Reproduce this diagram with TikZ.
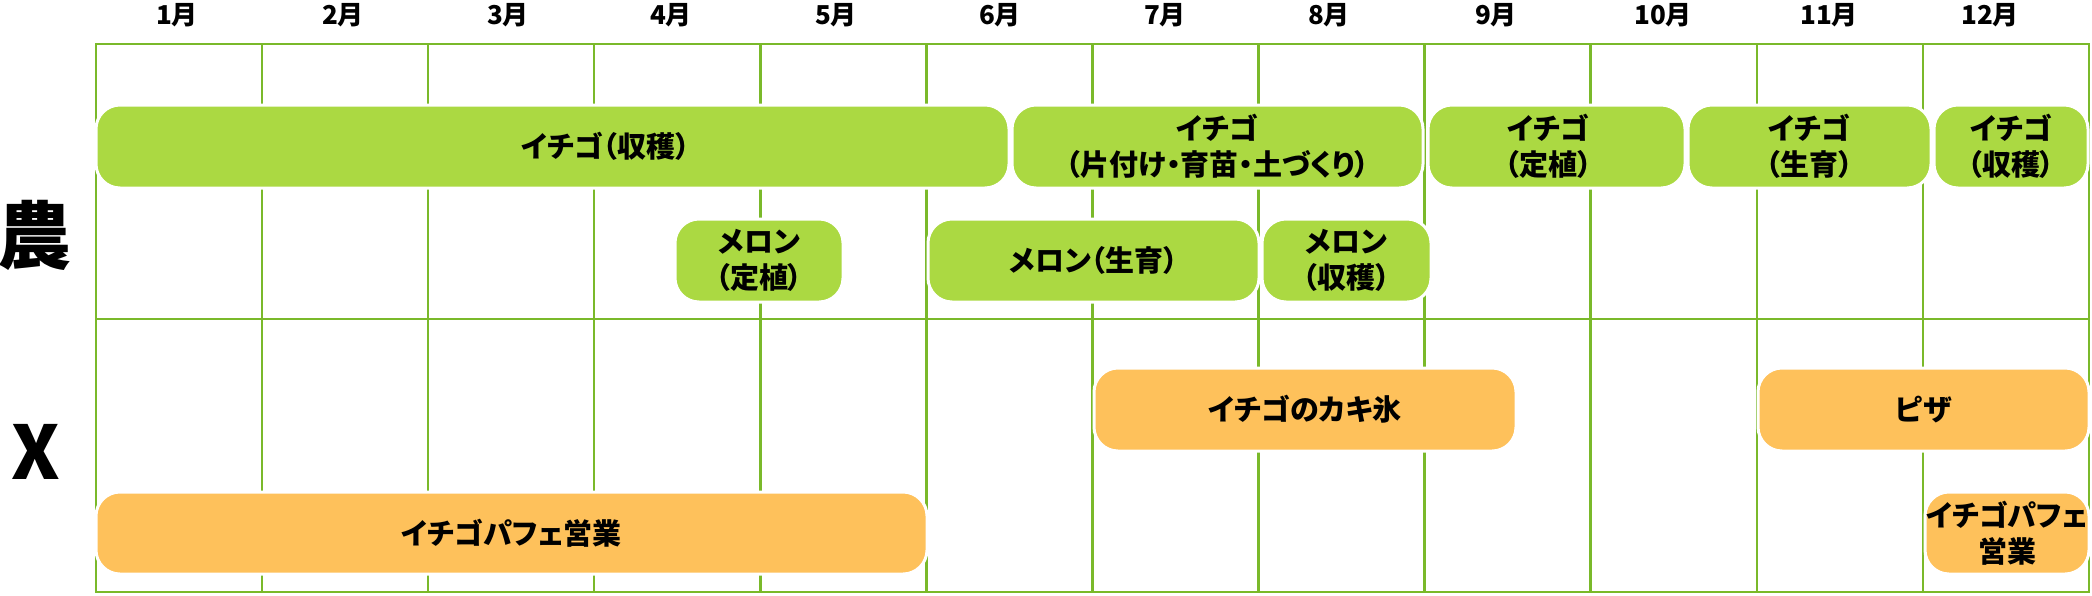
\documentclass[tikz,border=0pt]{standalone}
\usepackage{fontspec}
\newfontfamily\jp{Noto Sans CJK JP}[RawFeature=+palt]
\definecolor{gridc}{HTML}{7AB92A}
\definecolor{gfill}{HTML}{ABD942}
\definecolor{ofill}{HTML}{FEC15B}
\begin{document}
\begin{tikzpicture}[x=1pt,y=-1pt,
  box/.style={rounded corners=24pt, draw=white, line width=3pt, inner sep=0pt},
  gbox/.style={box, fill=gfill},
  obox/.style={box, fill=ofill},
  boxtext/.style={align=center, inner sep=0pt, font=\jp\bfseries\fontsize{29}{36}\selectfont},
  month/.style={inner sep=0pt, font=\jp\bfseries\fontsize{26}{30}\selectfont},
  side/.style={inner sep=0pt, font=\jp\bfseries\fontsize{74}{80}\selectfont},
  gridline/.style={draw=gridc, line width=2.5pt},
  border/.style={draw=gridc, line width=2.8pt}]
\useasboundingbox (0,0) rectangle (2092,595);
% grid
\foreach \k in {1,...,11}
  \draw[gridline] ({96+166.08*\k},44) -- ({96+166.08*\k},592);
\draw[border] (96,44) rectangle (2089,592);
\draw[border] (96,319) -- (2089,319);
% months
\node[month] (m1) at (177,15) {1月};
\node[month] (m2) at (343,15) {2月};
\node[month] (m3) at (508,15) {3月};
\node[month] (m4) at (671,15) {4月};
\node[month] (m5) at (836,15) {5月};
\node[month] (m6) at (1000,15) {6月};
\node[month] (m7) at (1165,15) {7月};
\node[month] (m8) at (1329,15) {8月};
\node[month] (m9) at (1496,15) {9月};
\node[month] (m10) at (1663,15) {10月};
\node[month] (m11) at (1829,15) {11月};
\node[month] (m12) at (1990,15) {12月};
% side labels
\node[side] (farm) at (35,235) {農};
\node[side] (x) at (36,452) {X};
% row 1
\node[gbox, minimum width=913pt, minimum height=83pt,
  label={[boxtext, xshift=53pt]center:イチゴ（収穫）}] (a1) at (552.5,146.5) {};
\node[gbox, minimum width=411pt, minimum height=83pt,
  label={[boxtext]center:イチゴ\\（片付け・育苗・土づくり）}] (a2) at (1217.5,146.5) {};
\node[gbox, minimum width=257pt, minimum height=83pt,
  label={[boxtext, xshift=-8pt]center:イチゴ\\（定植）}] (a3) at (1556.5,146.5) {};
\node[gbox, minimum width=243pt, minimum height=83pt,
  label={[boxtext]center:イチゴ\\（生育）}] (a4) at (1809.5,146.5) {};
\node[gbox, minimum width=154pt, minimum height=83pt,
  label={[boxtext]center:イチゴ\\（収穫）}] (a5) at (2011,146.5) {};
% row 2
\node[gbox, minimum width=168pt, minimum height=83pt,
  label={[boxtext]center:メロン\\（定植）}] (b1) at (759,260.5) {};
\node[gbox, minimum width=331pt, minimum height=83pt,
  label={[boxtext]center:メロン（生育）}] (b2) at (1093.5,260.5) {};
\node[gbox, minimum width=169pt, minimum height=83pt,
  label={[boxtext]center:メロン\\（収穫）}] (b3) at (1346.5,260.5) {};
% X rows
\node[obox, minimum width=422pt, minimum height=83pt,
  label={[boxtext]center:イチゴのカキ氷}] (c1) at (1305,409.5) {};
\node[obox, minimum width=331pt, minimum height=83pt,
  label={[boxtext]center:ピザ}] (c2) at (1923.5,409.5) {};
\node[obox, minimum width=831pt, minimum height=82pt,
  label={[boxtext]center:イチゴパフェ営業}] (d1) at (511.5,533) {};
\node[obox, minimum width=164pt, minimum height=82pt,
  label={[boxtext]center:イチゴパフェ\\営業}] (d2) at (2007,533) {};
\end{tikzpicture}
\end{document}
